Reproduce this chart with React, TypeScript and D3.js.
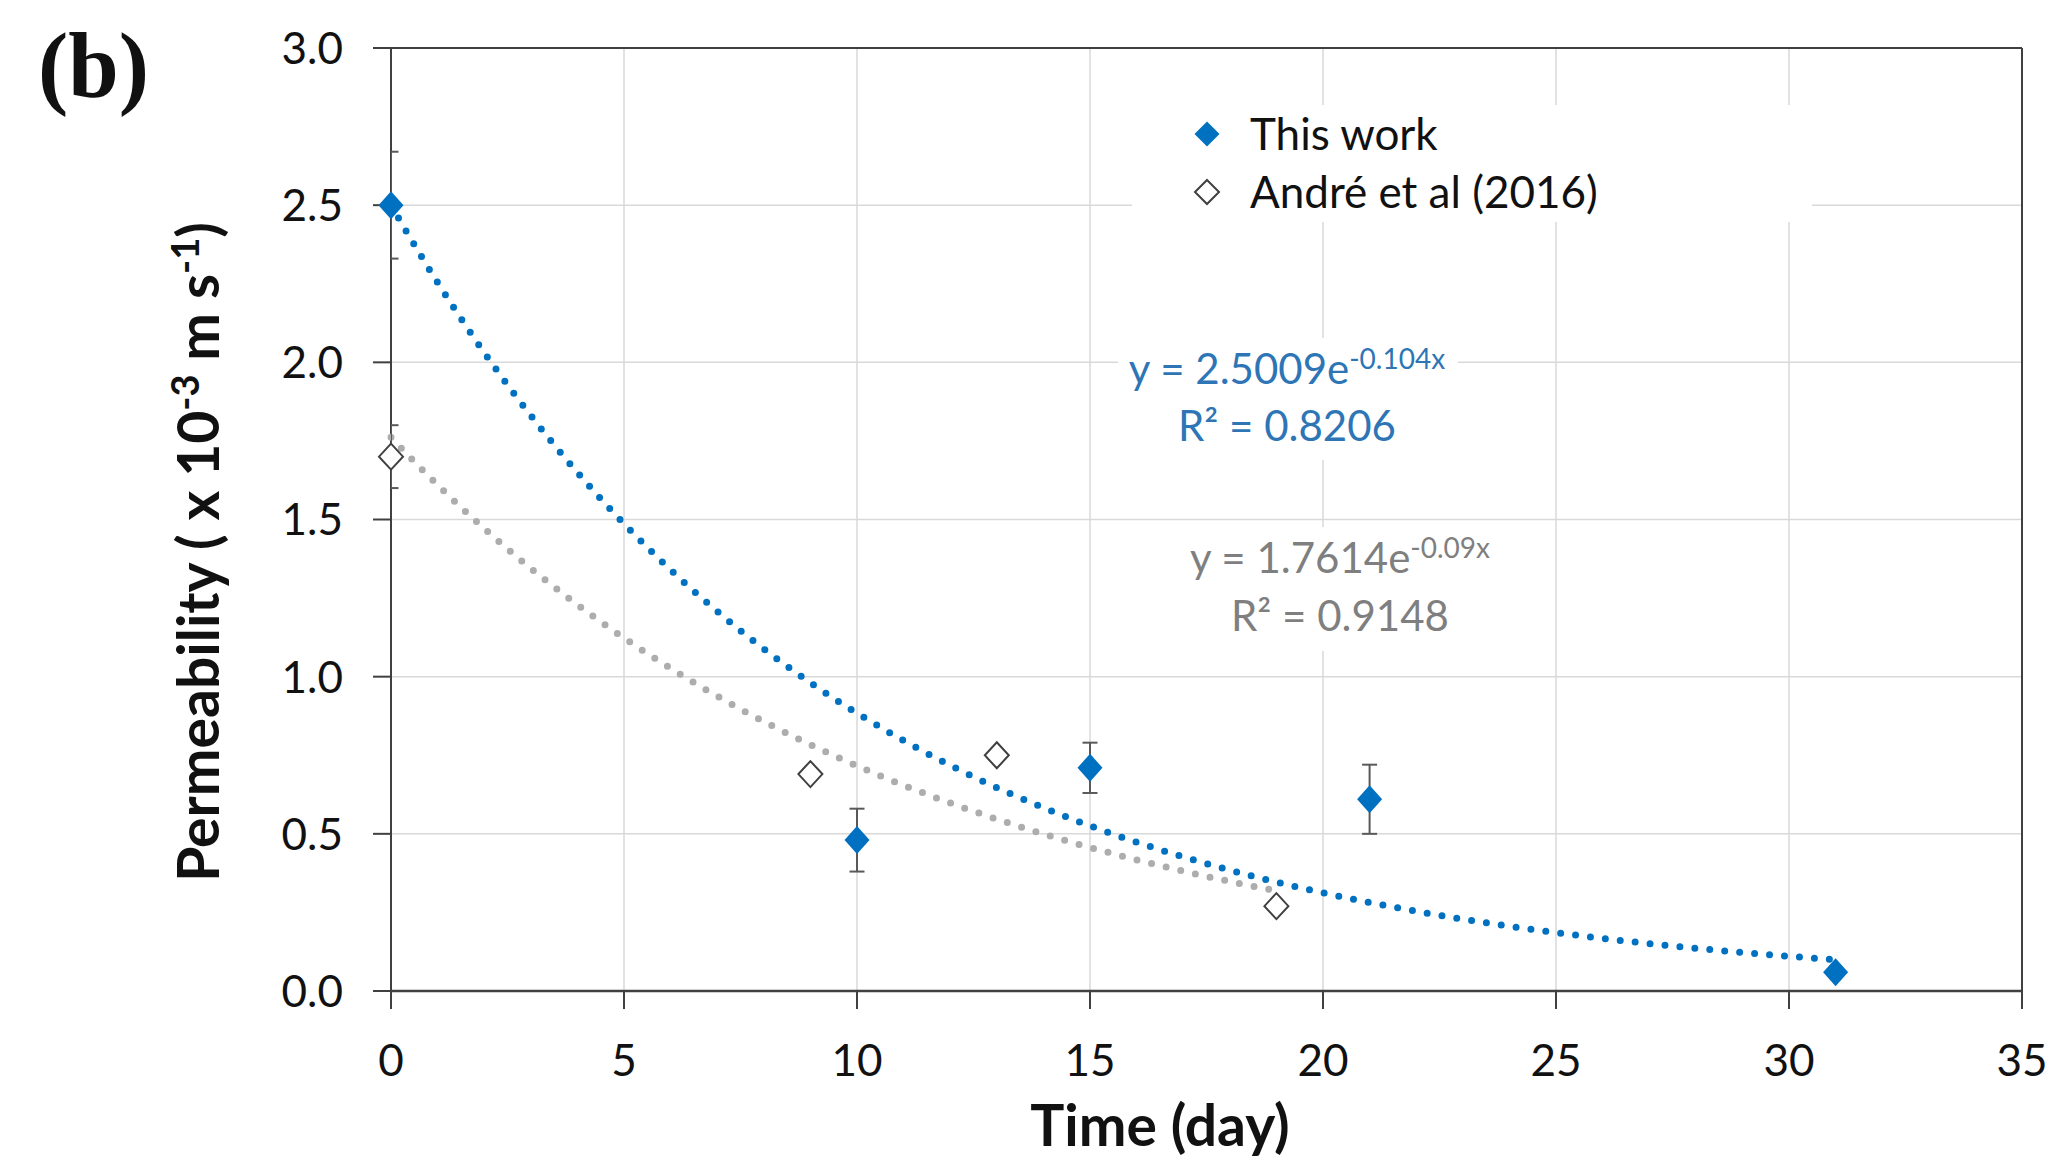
import React from 'react';
import * as d3 from 'd3';

// data
const workDays = [0, 10, 15, 21, 31];
const workValues = [2.5, 0.48, 0.71, 0.61, 0.06];
const workErrors = [0.17, 0.1, 0.08, 0.11, 0];

const andreDays = [0, 9, 13, 19];
const andreValues = [1.7, 0.69, 0.75, 0.27];
const andreErrors = [0.1, 0, 0, 0];

// exponential trendlines as printed on the chart
const workFit = [2.5009, -0.104];
const workFitEnd = 31;
const andreFit = [1.7614, -0.09];
const andreFitEnd = 19;

const xTicks = [0, 5, 10, 15, 20, 25, 30, 35];
const yTicks = [0, 0.5, 1, 1.5, 2, 2.5, 3];

const W = 2052;
const H = 1157;
const FONT = "Lato, 'Open Sans', sans-serif";
const BLUE = '#0070C0';
const GREY_LINE = '#ADADAD';
const AXIS = '#404040';

const x = d3.scaleLinear().domain([0, 35]).range([391, 2022]);
const y = d3.scaleLinear().domain([0, 3]).range([991, 48]);

const diamond = (rx: number, ry: number) => `M0,${-ry}L${rx},0L0,${ry}L${-rx},0Z`;

const fitLine = d3
  .line<[number, number]>()
  .x(d => x(d[0]))
  .y(d => y(d[1]))
  .curve(d3.curveMonotoneX);

const fitPoints = (fit: number[], end: number): [number, number][] =>
  d3.range(0, end + 0.001, 0.25).map(t => [t, fit[0] * Math.exp(fit[1] * t)] as [number, number]);

const ErrorBar = ({ cx, v, e }: { cx: number; v: number; e: number }) => {
  if (!e) return null;
  const x0 = x(cx);
  return (
    <g stroke="#595959" strokeWidth={2}>
      <line x1={x0} x2={x0} y1={y(v - e)} y2={y(v + e)} />
      <line x1={x0 - 7.5} x2={x0 + 7.5} y1={y(v - e)} y2={y(v - e)} />
      <line x1={x0 - 7.5} x2={x0 + 7.5} y1={y(v + e)} y2={y(v + e)} />
    </g>
  );
};

export default function App() {
  const [x0, x1] = x.range();
  const [yB, yT] = y.range();

  return (
    <svg
      width={W}
      height={H}
      viewBox={`0 0 ${W} ${H}`}
      style={{ position: 'absolute', left: 0, top: 0, background: '#fff' }}
      fontFamily={FONT}
    >
      <defs>
        <clipPath id="plot">
          <rect x={x0} y={yT} width={x1 - x0} height={yB - yT} />
        </clipPath>
      </defs>

      {/* gridlines */}
      <g stroke="#D9D9D9" strokeWidth={1.5}>
        {yTicks.map(t => (
          <line key={'gy' + t} x1={x0} x2={x1} y1={y(t)} y2={y(t)} />
        ))}
        {xTicks.map(t => (
          <line key={'gx' + t} x1={x(t)} x2={x(t)} y1={yT} y2={yB} />
        ))}
      </g>

      {/* frame + ticks */}
      <g stroke={AXIS}>
        <line x1={x0} x2={x1} y1={yT} y2={yT} strokeWidth={2} />
        <line x1={x1} x2={x1} y1={yT} y2={yB} strokeWidth={2} />
        <line x1={x0} x2={x0} y1={yT} y2={yB} strokeWidth={2} />
        <line x1={x0} x2={x1} y1={yB} y2={yB} strokeWidth={2.5} />
        {yTicks.map(t => (
          <line key={'ty' + t} x1={x0 - 18} x2={x0} y1={y(t)} y2={y(t)} strokeWidth={2} />
        ))}
        {xTicks.map(t => (
          <line key={'tx' + t} x1={x(t)} x2={x(t)} y1={yB} y2={yB + 18} strokeWidth={2} />
        ))}
      </g>

      {/* tick labels */}
      <g fontSize={44} fill="#111">
        {yTicks.map(t => (
          <text key={'ly' + t} x={343} y={y(t)} dy="0.36em" textAnchor="end">
            {d3.format('.1f')(t)}
          </text>
        ))}
        {xTicks.map(t => (
          <text key={'lx' + t} x={x(t)} y={1076} textAnchor="middle">
            {t}
          </text>
        ))}
      </g>

      {/* trendlines */}
      <g fill="none" strokeWidth={7} strokeLinecap="round" strokeDasharray="0 15">
        <path d={fitLine(fitPoints(andreFit, andreFitEnd)) || ''} stroke={GREY_LINE} />
        <path d={fitLine(fitPoints(workFit, workFitEnd)) || ''} stroke={BLUE} />
      </g>

      {/* error bars, clipped to plot area like Excel */}
      <g clipPath="url(#plot)">
        {workDays.map((d, i) => (
          <ErrorBar key={'ew' + i} cx={d} v={workValues[i]} e={workErrors[i]} />
        ))}
        {andreDays.map((d, i) => (
          <ErrorBar key={'ea' + i} cx={d} v={andreValues[i]} e={andreErrors[i]} />
        ))}
      </g>

      {/* markers */}
      {andreDays.map((d, i) => (
        <path
          key={'ma' + i}
          d={diamond(12, 13)}
          transform={`translate(${x(d)},${y(andreValues[i])})`}
          fill="#fff"
          stroke={AXIS}
          strokeWidth={2}
        />
      ))}
      {workDays.map((d, i) => (
        <path
          key={'mw' + i}
          d={diamond(12.5, 14)}
          transform={`translate(${x(d)},${y(workValues[i])})`}
          fill={BLUE}
        />
      ))}

      {/* legend */}
      <rect x={1132} y={105} width={680} height={117} fill="#fff" />
      <path d={diamond(12.5, 12.5)} transform="translate(1207,134)" fill={BLUE} />
      <path d={diamond(12, 12)} transform="translate(1207,192)" fill="#fff" stroke={AXIS} strokeWidth={2} />
      <g fontSize={44} fill="#111">
        <text x={1250} y={150}>This work</text>
        <text x={1250} y={208}>André et al (2016)</text>
      </g>

      {/* trendline equations */}
      <rect x={1118} y={338} width={340} height={122} fill="#fff" />
      <g fill="#2E75B6" fontSize={42} textAnchor="middle" style={{ whiteSpace: 'pre' }}>
        <text x={1287} y={384}>
          {`y = ${workFit[0]}e`}
          <tspan fontSize={28} dy={-15}>{`${workFit[1]}x`}</tspan>
        </text>
        <text x={1287} y={441}>{`R² = 0.8206`}</text>
      </g>
      <rect x={1185} y={527} width={312} height={124} fill="#fff" />
      <g fill="#7F7F7F" fontSize={42} textAnchor="middle" style={{ whiteSpace: 'pre' }}>
        <text x={1340} y={573}>
          {`y = ${andreFit[0]}e`}
          <tspan fontSize={28} dy={-15}>{`${andreFit[1]}x`}</tspan>
        </text>
        <text x={1340} y={631}>{`R² = 0.9148`}</text>
      </g>

      {/* axis titles */}
      <text x={1160} y={1146} textAnchor="middle" fontSize={57} fontWeight={700} fill="#111">
        Time (day)
      </text>
      <text
        transform="translate(219,552) rotate(-90)"
        textAnchor="middle"
        fontSize={57}
        fontWeight={700}
        fill="#111"
        style={{ whiteSpace: 'pre' }}
      >
        {'Permeability ( x 10'}
        <tspan fontSize={38} dy={-20}>-3</tspan>
        <tspan dy={20}>{' m s'}</tspan>
        <tspan fontSize={38} dy={-20}>-1</tspan>
        <tspan dy={20}>)</tspan>
      </text>

      {/* panel letter */}
      <text
        x={38}
        y={97}
        fontFamily="'Liberation Serif', 'Times New Roman', serif"
        fontWeight={700}
        fontSize={94}
        fill="#111"
        textLength={111}
        lengthAdjust="spacingAndGlyphs"
      >
        (b)
      </text>
    </svg>
  );
}
